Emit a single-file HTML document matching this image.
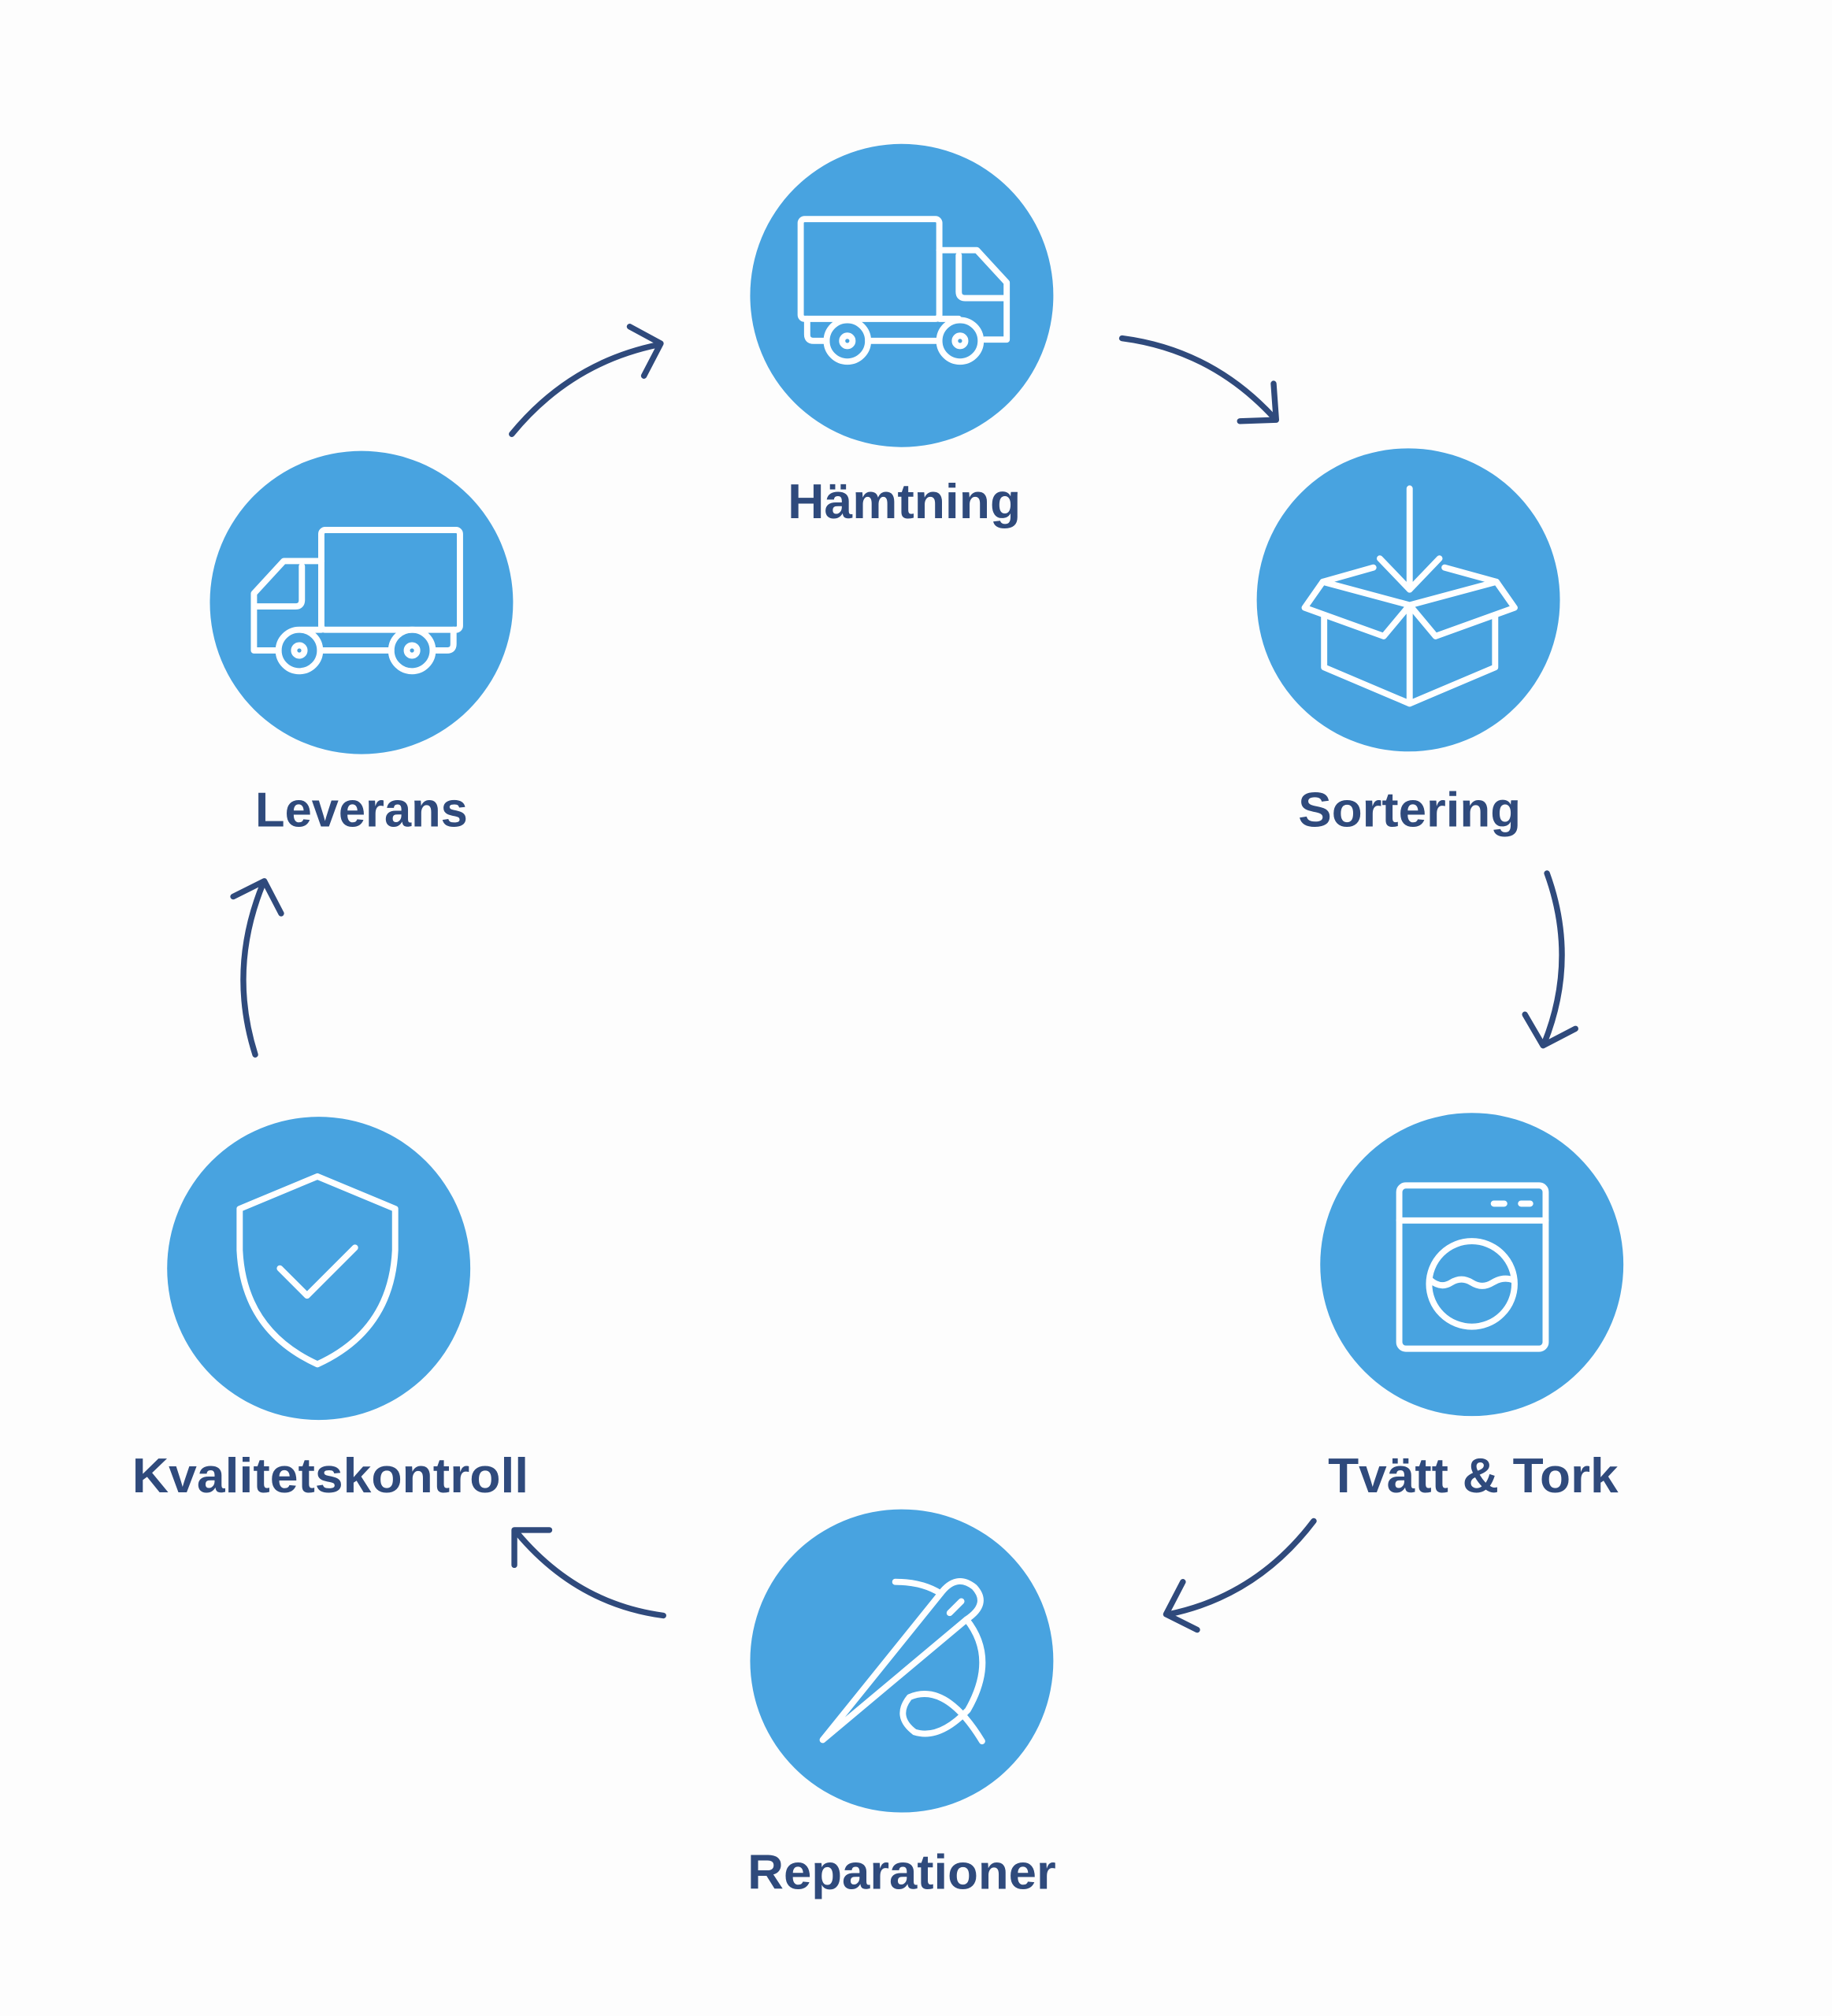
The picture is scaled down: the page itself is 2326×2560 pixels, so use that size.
<!DOCTYPE html>
<html><head><meta charset="utf-8"><style>
html,body{margin:0;padding:0;background:#fdfdfd;}
svg{display:block}
text{font-family:"Liberation Sans",sans-serif;font-weight:bold;fill:#2f4a7c;text-anchor:middle}
</style></head><body>
<svg width="2326" height="2560" viewBox="0 0 1414 1556" xmlns="http://www.w3.org/2000/svg">
<rect width="1414" height="1556" fill="#fdfdfd"/>
<g fill="#48a3e0">
<circle cx="696" cy="228" r="117"/>
<circle cx="1087" cy="463" r="117"/>
<circle cx="1136" cy="976" r="117"/>
<circle cx="696" cy="1282" r="117"/>
<circle cx="246" cy="979" r="117"/>
<circle cx="279" cy="465" r="117"/>
</g>
<g font-size="38">
<text x="698" y="400" textLength="180" lengthAdjust="spacingAndGlyphs">Hämtning</text>
<text x="1088" y="638" textLength="172" lengthAdjust="spacingAndGlyphs">Sortering</text>
<text x="279" y="638" textLength="164" lengthAdjust="spacingAndGlyphs">Leverans</text>
<text x="255" y="1152" textLength="306" lengthAdjust="spacingAndGlyphs">Kvalitetskontroll</text>
<text x="1137" y="1152" textLength="224" lengthAdjust="spacingAndGlyphs">Tvätt &amp; Tork</text>
<text x="696" y="1458" textLength="238" lengthAdjust="spacingAndGlyphs">Reparationer</text>
</g>
<g fill="none" stroke="#2f4a7c" stroke-width="4.5" stroke-linecap="round" stroke-linejoin="round">
<path d="M395 335 Q440 280 508 266"/><path d="M486 252 L510 265 L497 290"/>
<path d="M866 261 Q935 270 983 322"/><path d="M957 325 L985 324 L983 296"/>
<path d="M1194 674 Q1218 740 1192 805"/><path d="M1177 783 L1191 807 L1216 794"/>
<path d="M1014 1174 Q970 1232 902 1246"/><path d="M913 1221 L900 1246 L924 1258"/>
<path d="M512 1247 Q445 1238 399 1183"/><path d="M397 1208 L397 1181 L424 1181"/>
<path d="M197 814 Q176 748 203 682"/><path d="M180 692 L204 680 L217 705"/>
</g>
<g fill="none" stroke="#fff" stroke-width="4.8" stroke-linecap="round" stroke-linejoin="round">
<rect x="618" y="169" width="107" height="77" rx="3"/>
<path d="M725 193 H754 L777 218 V262 H760 M725 246 H740"/>
<path d="M740 197 V225 Q740 230 745 230 H777"/>
<path d="M623 246 V258 Q623 263 628 263 H638 M670 263 H725"/>
<circle cx="654" cy="263" r="16"/><circle cx="654" cy="263" r="4"/>
<circle cx="741" cy="263" r="16"/><circle cx="741" cy="263" r="4"/>
<rect x="248" y="409" width="107" height="77" rx="3"/>
<path d="M248 433 H219 L196 458 V502 H213 M248 486 H233"/>
<path d="M233 437 V463 Q233 468 228 468 H196"/>
<path d="M350 486 V497 Q350 502 345 502 H335 M302 502 H248"/>
<circle cx="231" cy="502" r="16"/><circle cx="231" cy="502" r="4"/>
<circle cx="318" cy="502" r="16"/><circle cx="318" cy="502" r="4"/>
<path d="M1088 377 V455 M1065 431 L1088 455 L1111 431"/>
<path d="M1060 438 L1021 449 L1007 469 L1068 491 L1088 467 L1108 491 L1169 469 L1155 449 L1115 438"/>
<path d="M1021 449 L1088 467 L1155 449"/>
<path d="M1022 476 V515 L1088 543 L1154 515 V476 M1088 467 V543"/>
<rect x="1080" y="915" width="113" height="126" rx="5"/>
<path d="M1080 942 H1193 M1153 929 H1161 M1174 929 H1181"/>
<circle cx="1136" cy="991" r="33"/>
<path d="M1104 988 Q1112 995 1120 990 Q1128 985 1136 990 Q1144 995 1152 990 Q1160 985 1168 988"/>
<path d="M185 933 L245 908 L305 933 V965 Q302 1027 245 1053 Q188 1027 185 965 Z"/>
<path d="M216 979 L237 1000 L274 963"/>
<path d="M635 1343 L726 1230 Q738 1214 752 1225 Q764 1238 746 1250 Z"/>
<path d="M733 1245 L742 1236"/>
<path d="M691 1221 Q712 1221 726 1230"/>
<path d="M746 1250 Q770 1280 747 1320 Q725 1343 706 1337 Q690 1325 702 1310 Q730 1298 758 1344"/>
</g>
</svg>
</body></html>
